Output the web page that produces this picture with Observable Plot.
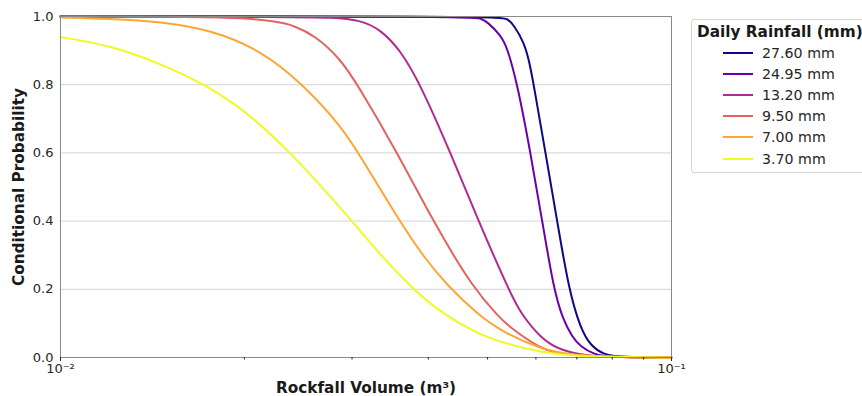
<!DOCTYPE html>
<html><head><meta charset="utf-8">
<script src="https://cdn.jsdelivr.net/npm/d3@7"></script>
<script src="https://cdn.jsdelivr.net/npm/@observablehq/plot@0.6"></script>
<style>
html,body{margin:0;padding:0;background:#fff;}
#wrap{position:relative;width:862px;height:396px;overflow:hidden;font-family:"DejaVu Sans",sans-serif;}
#legend{position:absolute;left:691px;top:19px;width:200px;height:154px;border:1px solid #d4d4d4;border-radius:3px;background:#fff;box-sizing:border-box;color:#1a1a1a;}
#legend .title{font-weight:bold;font-size:15.3px;line-height:20px;margin-top:2px;padding-left:5px;white-space:nowrap;}
#legend .row{height:21.2px;display:flex;align-items:center;padding-left:31px;font-size:14.2px;white-space:nowrap;color:#262626;}
#legend .row svg{margin-right:9px;}
</style></head><body><div id="wrap"></div>
<script>
const seriesNames = ["27.60 mm", "24.95 mm", "13.20 mm", "9.50 mm", "7.00 mm", "3.70 mm"];
const seriesColors = ["#0d0887", "#6a00a8", "#b12a90", "#e16462", "#fca636", "#f0f921"];
const legendTitle = "Daily Rainfall (mm)";
const xLabel = "Rockfall Volume (m³)";
const yLabel = "Conditional Probability";
const xTicksMajor = [0.01, 0.1];
const xTickLabels = ["10⁻²", "10⁻¹"];
const xTicksMinor = [0.02, 0.03, 0.04, 0.05, 0.06, 0.07, 0.08, 0.09];
const yTicks = [0, 0.2, 0.4, 0.6, 0.8, 1.0];

const vol_2760 = [0.01, 0.0525, 0.05384, 0.05519, 0.05731, 0.0584, 0.05951, 0.06219, 0.065, 0.0679, 0.07096, 0.07369, 0.07748, 0.08252, 0.1];
const prob_2760 = [1.0, 1.0, 0.994, 0.975, 0.925, 0.875, 0.80, 0.60, 0.40, 0.20, 0.085, 0.035, 0.008, 0.001, 0.0];
const vol_2495 = [0.01, 0.04743, 0.04869, 0.04993, 0.0525, 0.05384, 0.05597, 0.05878, 0.06143, 0.06417, 0.06631, 0.06878, 0.07096, 0.07461, 0.07946, 0.1];
const prob_2495 = [1.0, 1.0, 0.994, 0.985, 0.945, 0.91, 0.80, 0.60, 0.40, 0.20, 0.115, 0.06, 0.032, 0.009, 0.001, 0.0];
const vol_1320 = [0.01, 0.0247, 0.02767, 0.03097, 0.0334, 0.03602, 0.03884, 0.04349, 0.04832, 0.0541, 0.0566, 0.06103, 0.065, 0.07185, 0.08252, 0.1];
const prob_1320 = [1.0, 0.999, 0.997, 0.99, 0.962, 0.901, 0.80, 0.60, 0.40, 0.20, 0.13, 0.058, 0.025, 0.005, 0.0005, 0.0];
const vol_950 = [0.01, 0.01695, 0.01971, 0.02263, 0.02406, 0.02615, 0.02873, 0.03063, 0.03561, 0.04071, 0.04743, 0.0525, 0.05384, 0.06103, 0.065, 0.0692, 0.08252, 0.1];
const prob_950 = [1.0, 0.999, 0.996, 0.985, 0.974, 0.943, 0.875, 0.80, 0.60, 0.40, 0.20, 0.115, 0.095, 0.025, 0.013, 0.006, 0.0005, 0.0];
const vol_700 = [0.01, 0.01207, 0.01458, 0.0176, 0.02125, 0.02498, 0.02873, 0.03074, 0.03588, 0.03933, 0.043, 0.04808, 0.0525, 0.06103, 0.0692, 0.08252, 0.1];
const prob_700 = [0.997, 0.993, 0.985, 0.961, 0.902, 0.80, 0.68, 0.60, 0.40, 0.294, 0.21, 0.128, 0.078, 0.024, 0.006, 0.001, 0.0];
const vol_370 = [0.01, 0.01207, 0.01458, 0.01727, 0.02021, 0.02379, 0.02615, 0.03, 0.0334, 0.03776, 0.04188, 0.04748, 0.0525, 0.06103, 0.0692, 0.08252, 0.1];
const prob_370 = [0.94, 0.915, 0.862, 0.80, 0.72, 0.60, 0.52, 0.40, 0.30, 0.20, 0.133, 0.075, 0.045, 0.015, 0.005, 0.001, 0.0];

const seriesVols = [vol_2760, vol_2495, vol_1320, vol_950, vol_700, vol_370];
const seriesProbs = [prob_2760, prob_2495, prob_1320, prob_950, prob_700, prob_370];
const rows = seriesNames.flatMap((name, k) => seriesVols[k].map((v, i) => ({series: name, volume: v, prob: seriesProbs[k][i]})));

const chart = Plot.plot({
  width: 862, height: 396,
  marginLeft: 60, marginRight: 191, marginTop: 16, marginBottom: 39,
  style: {fontFamily: '"DejaVu Sans", sans-serif', fontSize: "13px", color: "#262626", background: "white", overflow: "visible"},
  x: {type: "log", domain: [0.01, 0.1]},
  y: {domain: [0, 1]},
  color: {domain: seriesNames, range: seriesColors},
  marks: [
    Plot.ruleY(yTicks.slice(1, -1), {stroke: "#dcdcdc", strokeWidth: 1.2}),
    Plot.line(rows, {x: "volume", y: "prob", z: "series", stroke: "series", strokeWidth: 2, curve: "basis"}),
    Plot.frame({stroke: "#8a8a8a"}),
    Plot.axisY({ticks: yTicks, tickFormat: d3.format(".1f"), tickSize: 0, tickPadding: 7, label: null}),
    Plot.axisX({ticks: xTicksMinor, tickSize: 2.5, tickFormat: () => "", label: null}),
    Plot.axisX({ticks: xTicksMajor, tickSize: 4, tickPadding: 2, tickFormat: d => xTickLabels[xTicksMajor.indexOf(d)], label: null}),
    Plot.text([xLabel], {frameAnchor: "bottom", dy: 31, lineAnchor: "middle", textAnchor: "middle", fontWeight: "bold", fontSize: 15.3, fill: "#1a1a1a"}),
    Plot.text([yLabel], {frameAnchor: "left", dx: -41, rotate: -90, textAnchor: "middle", lineAnchor: "middle", fontWeight: "bold", fontSize: 15.3, fill: "#1a1a1a"})
  ]
});
const wrap = document.getElementById("wrap");
wrap.appendChild(chart);

const legend = document.createElement("div");
legend.id = "legend";
const t = document.createElement("div");
t.className = "title";
t.textContent = legendTitle;
legend.appendChild(t);
seriesNames.forEach((name, k) => {
  const r = document.createElement("div");
  r.className = "row";
  r.innerHTML = `<svg width="30" height="4"><line x1="0" x2="30" y1="2" y2="2" stroke="${seriesColors[k]}" stroke-width="2"/></svg><span>${name}</span>`;
  legend.appendChild(r);
});
wrap.appendChild(legend);
</script></body></html>
